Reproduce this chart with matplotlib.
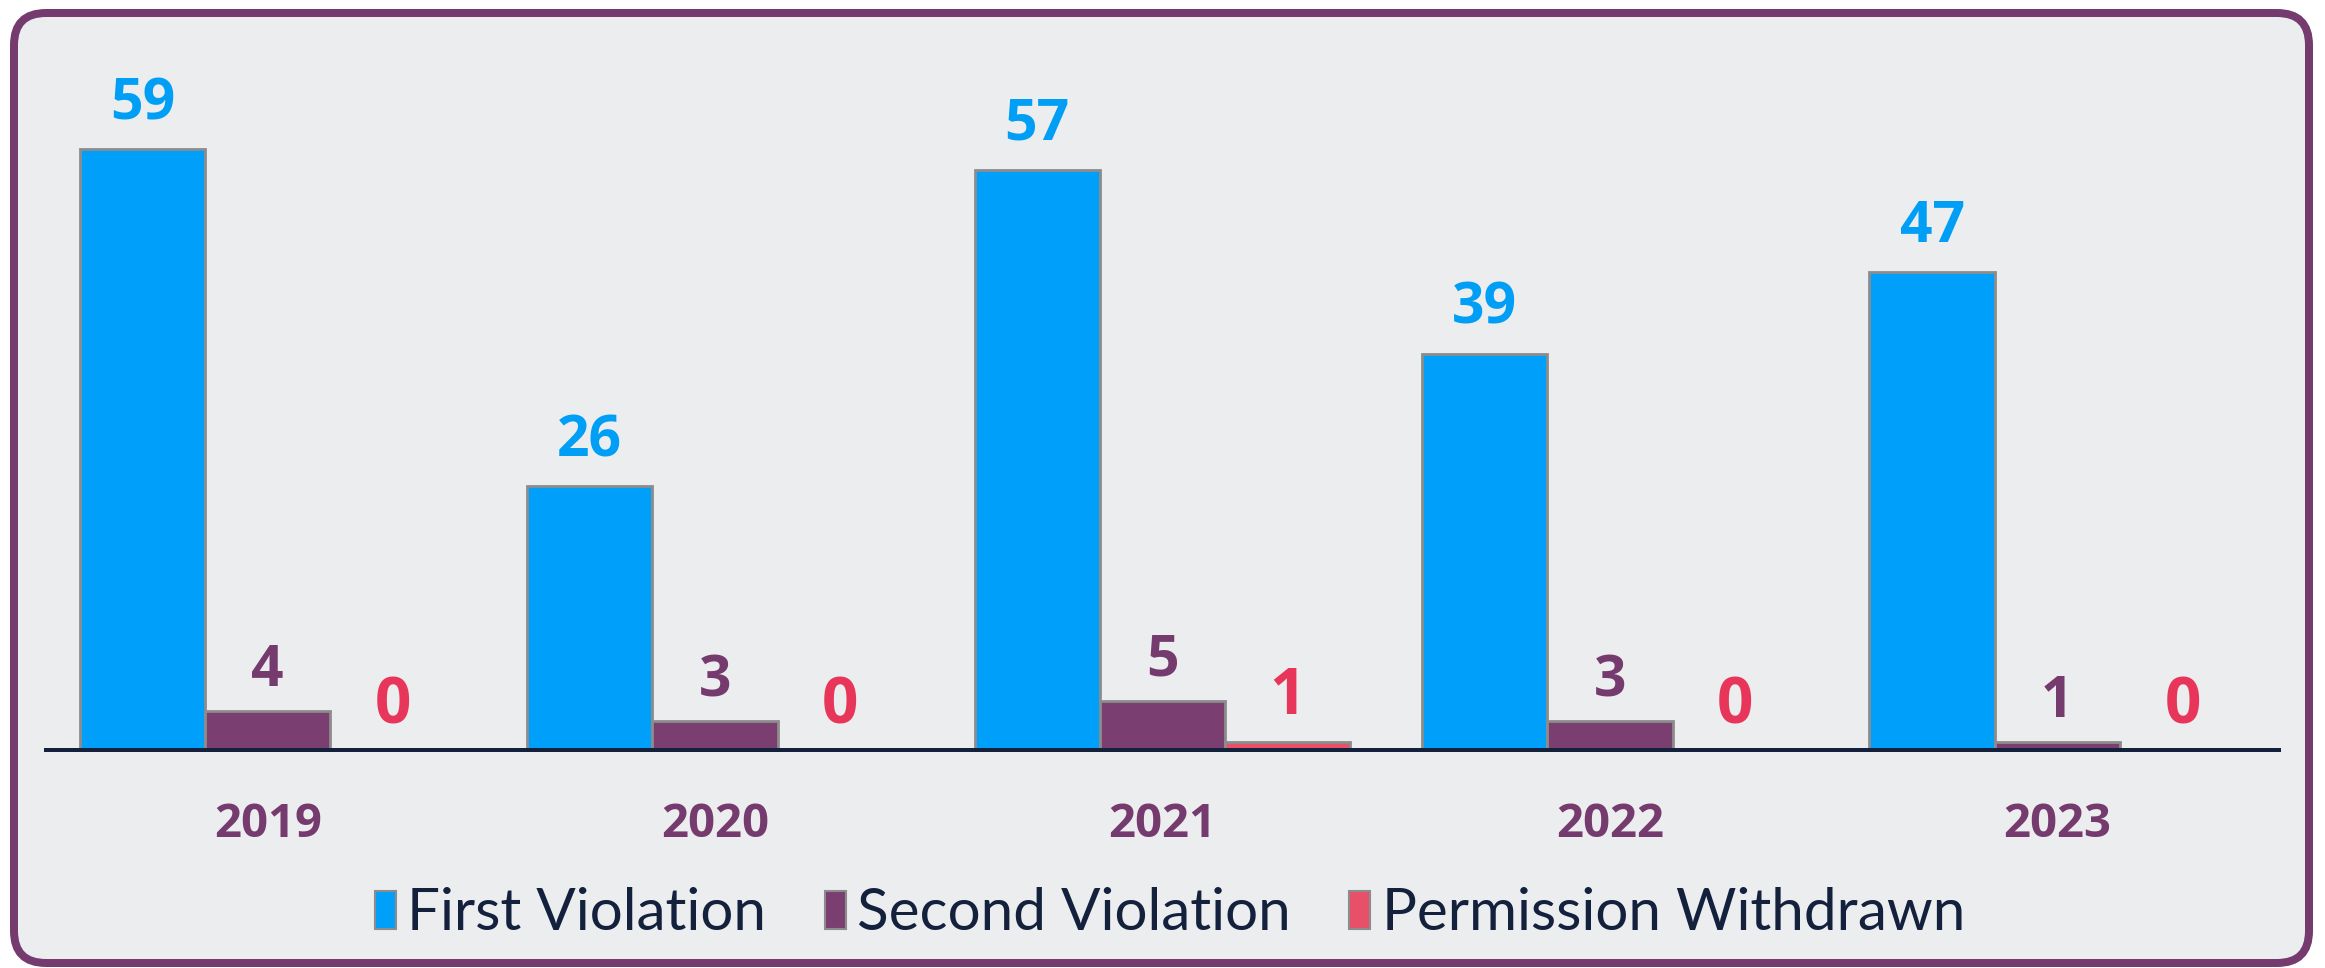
import numpy as np
import matplotlib
matplotlib.use("Agg")
import matplotlib.pyplot as plt
from matplotlib.patches import FancyBboxPatch, Rectangle

years = ["2019", "2020", "2021", "2022", "2023"]
first_violation = [59, 26, 57, 39, 47]
second_violation = [4, 3, 5, 3, 1]
permission_withdrawn = [0, 0, 1, 0, 0]
series_names = ["First Violation", "Second Violation", "Permission Withdrawn"]

bar_colors = ["#00A0FA", "#7A3E70", "#E8506A"]
label_colors = ["#009FF5", "#763B6E", "#E8365A"]
FONT = "Lato"
NUMFONT = "Open Sans"

W, H, DPI = 2325, 968, 100
fig = plt.figure(figsize=(W / DPI, H / DPI), dpi=DPI)
fig.patch.set_facecolor("white")

# background frame in pixel coordinates
bg = fig.add_axes([0, 0, 1, 1], zorder=0)
bg.set_xlim(0, W)
bg.set_ylim(0, H)
bg.axis("off")
frame = FancyBboxPatch((14 + 32, 5 + 32), W - 14 - 16 - 64, H - 9 - 14 - 64 + 5,
                       boxstyle="round,pad=32", facecolor="#ECEDEF",
                       edgecolor="#763B6E", linewidth=8 * 72 / DPI)
bg.add_patch(frame)

ax = fig.add_axes([44 / W, 1 - 752 / H, (2281 - 44) / W, 664 / H], zorder=1)
ax.set_facecolor("none")
ax.set_xlim(-0.5, 4.5)
ax.set_ylim(0, 65)

x = np.arange(len(years))
bw = 0.28
all_series = [first_violation, second_violation, permission_withdrawn]
offsets_px = [30, 25, 28]
sizes = [41, 41, 46]
for i, (vals, name) in enumerate(zip(all_series, series_names)):
    pos = x + (i - 1) * bw
    ax.bar(pos, vals, width=bw, color=bar_colors[i], edgecolor="#8C8C8C",
           linewidth=2, label=name, zorder=2)
    for xp, v in zip(pos, vals):
        ax.annotate(str(v), (xp, v), xytext=(0, offsets_px[i] * 72 / DPI),
                    textcoords="offset points", ha="center", va="baseline",
                    fontsize=sizes[i], fontweight="bold", color=label_colors[i],
                    family=NUMFONT)

ax.axhline(0, color="#14213D", linewidth=9 * 72 / DPI, zorder=3)
for s in ax.spines.values():
    s.set_visible(False)
ax.set_yticks([])
ax.set_xticks(x)
ax.set_xticklabels(years, fontsize=34, fontweight="bold", color="#763B6E", family=NUMFONT)
ax.tick_params(axis="x", length=0, pad=35)

handles = [Rectangle((0, 0), 1, 1, facecolor=bar_colors[i], edgecolor="#8C8C8C", linewidth=1.5)
           for i in range(3)]
leg = fig.legend(handles, series_names, loc="center", bbox_to_anchor=(1170 / W, 1 - 914 / H),
                 ncol=3, frameon=False, prop={"family": FONT, "size": 42},
                 handlelength=0.36, handleheight=0.64, handletextpad=0.2, columnspacing=1.0)
for t in leg.get_texts():
    t.set_color("#14213D")

fig.savefig("out.png", dpi=DPI, facecolor="white")
